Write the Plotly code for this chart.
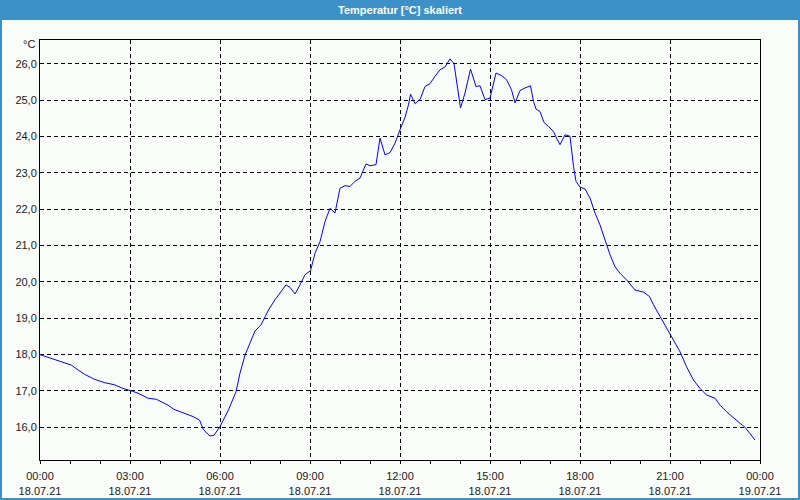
import plotly.graph_objects as go

# --- data ---
times = ["00:00","00:23","00:43","01:03","01:16","01:29","01:49","02:09","02:29","02:46",
         "03:01","03:16","03:36","03:53","04:00","04:16","04:27","04:47","05:07","05:19",
         "05:27","05:40","05:48","06:00","06:17","06:32","06:40","06:50","07:00","07:10",
         "07:22","07:37","07:50","08:03","08:12","08:20","08:30","08:40","08:50","09:01",
         "09:10","09:20","09:30","09:40","09:50","10:00","10:10","10:20","10:30","10:40",
         "10:52","11:00","11:12","11:20","11:30","11:40","11:50","12:00","12:10","12:17",
         "12:21","12:30","12:40","12:50","13:00","13:10","13:20","13:30","13:40","13:48",
         "14:01","14:10","14:21","14:32","14:40","14:50","15:00","15:12","15:23","15:33",
         "15:43","15:50","16:00","16:10","16:21","16:27","16:32","16:40","16:48","16:57",
         "17:07","17:13","17:20","17:30","17:40","17:47","17:52","18:00","18:10","18:20",
         "18:30","18:40","18:50","19:00","19:10","19:20","19:33","19:50","20:07","20:19",
         "20:27","20:40","20:53","21:07","21:20","21:33","21:47","22:00","22:13","22:30",
         "22:40","22:53","23:07","23:20","23:30","23:40","23:50"]
temps = [18.00,17.89,17.80,17.71,17.58,17.46,17.32,17.23,17.17,17.07,
         17.01,16.94,16.80,16.77,16.72,16.61,16.50,16.40,16.29,16.20,
         15.93,15.76,15.78,16.02,16.48,16.98,17.49,17.99,18.31,18.65,
         18.82,19.23,19.51,19.74,19.92,19.85,19.67,19.92,20.20,20.31,
         20.79,21.11,21.66,22.03,21.90,22.58,22.65,22.63,22.77,22.86,
         23.25,23.20,23.23,23.96,23.50,23.56,23.82,24.19,24.53,24.88,
         25.17,24.91,25.02,25.38,25.46,25.66,25.84,25.92,26.14,26.01,
         24.79,25.20,25.86,25.38,25.40,25.02,25.06,25.75,25.68,25.57,
         25.29,24.93,25.27,25.34,25.40,24.97,24.76,24.69,24.39,24.28,
         24.14,23.96,23.78,24.05,24.01,23.18,22.77,22.61,22.56,22.31,
         21.90,21.57,21.16,20.75,20.42,20.24,20.06,19.78,19.72,19.60,
         19.37,19.05,18.73,18.36,18.08,17.67,17.30,17.07,16.89,16.80,
         16.61,16.43,16.25,16.11,16.00,15.83,15.65]
day = "2021-07-18"
next_day = "2021-07-19"
title_text = "Temperatur [°C] skaliert"
unit_text = "°C"

x = [f"{day} {t}" for t in times]

FONT = "Liberation Sans"
BLUE_HDR = "#3c91c8"

fig = go.Figure()
fig.add_trace(go.Scatter(x=x, y=temps, mode="lines",
                         line=dict(color="#0000ff", width=1), hoverinfo="skip"))

W, H = 800, 500
ml, mr, mt, mb = 40, 40, 40, 40
pw, ph = W - ml - mr, H - mt - mb

def px_x(p):
    return (p - ml) / pw

def px_y(p):
    return 1 - (p - mt) / ph

fig.update_layout(
    width=W, height=H,
    margin=dict(l=ml, r=mr, t=mt, b=mb, autoexpand=False),
    paper_bgcolor="#fafcfa", plot_bgcolor="#fafcfa",
    showlegend=False,
    separators=",.",
    font=dict(family=FONT, size=11, color="#1a1a1a"),
    xaxis=dict(
        type="date", automargin=False,
        range=[f"{day} 00:00", f"{next_day} 00:00"],
        tick0=f"{day} 00:00", dtick=3 * 3600000,
        tickformat="%H:%M<br>%d.%m.%y",
        ticks="outside", ticklen=3, tickcolor="black", ticklabelstandoff=3,
        showline=True, linecolor="black", linewidth=1, mirror=True,
        showgrid=True, gridcolor="black", gridwidth=1, griddash="4px,3px",
        minor=dict(dtick=3600000, ticks="outside", ticklen=3, tickcolor="black", showgrid=False),
        zeroline=False, fixedrange=True,
    ),
    yaxis=dict(
        automargin=False,
        range=[15.10, 26.66],
        tick0=16, dtick=1, tickformat=".1f",
        ticks="", showline=True, linecolor="black", linewidth=1, mirror=True,
        showgrid=True, gridcolor="black", gridwidth=1, griddash="4px,3px",
        zeroline=False, fixedrange=True,
    ),
    shapes=[
        dict(type="rect", xref="paper", yref="paper",
             x0=px_x(0), x1=px_x(W), y0=px_y(0), y1=px_y(20),
             fillcolor=BLUE_HDR, line=dict(width=0), layer="below"),
        dict(type="rect", xref="paper", yref="paper",
             x0=px_x(1), x1=px_x(W - 1), y0=px_y(1), y1=px_y(H - 1),
             fillcolor="rgba(0,0,0,0)", line=dict(color=BLUE_HDR, width=2)),
    ],
    annotations=[
        dict(text=f"<b>{title_text}</b>", xref="paper", yref="paper",
             x=0.5, y=px_y(10), xanchor="center", yanchor="middle",
             showarrow=False, font=dict(family=FONT, size=11, color="white")),
        dict(text=unit_text, xref="paper", yref="paper",
             x=0, y=px_y(44), xanchor="right", yanchor="middle", xshift=-3,
             showarrow=False, font=dict(family=FONT, size=11, color="#1a1a1a")),
    ],
)

fig.write_html("out.html")
